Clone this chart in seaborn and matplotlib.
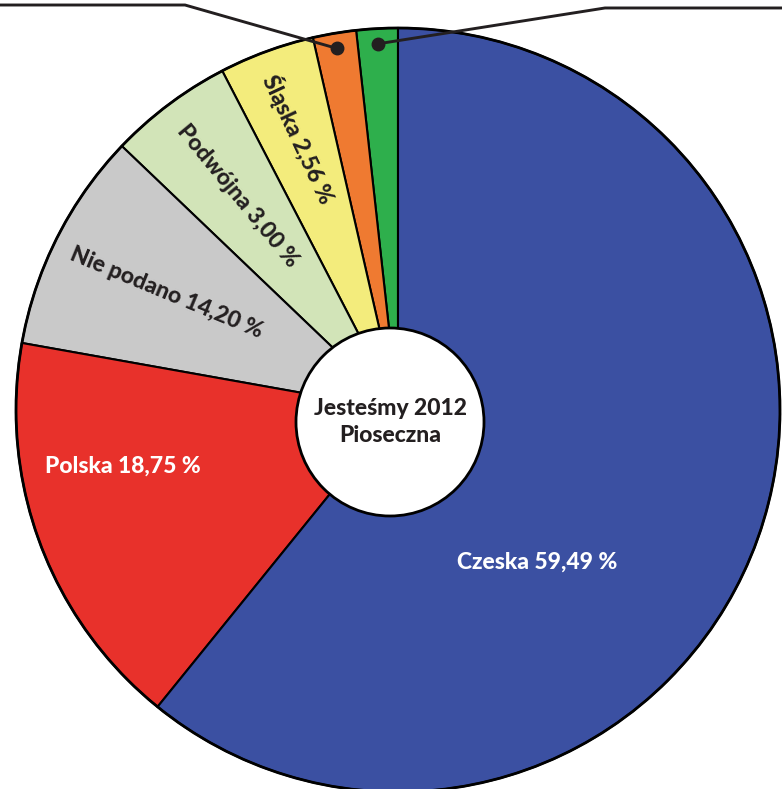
# ============================================
# Jesteśmy 2012 Pioseczna - nationality pie
# ============================================

import numpy as np
import matplotlib
matplotlib.use("Agg")
import matplotlib.pyplot as plt
import seaborn as sns

sns.set_theme(style="white")
plt.rcParams['font.family'] = ['Lato', 'DejaVu Sans']

# --------------------------------------------
# Data (counterclockwise from the top)
# --------------------------------------------
categories = ["inna A", "inna B", "Śląska", "Podwójna", "Nie podano", "Polska", "Czeska"]
# wedge sizes as drawn in the picture (%)
drawn_share = [1.75, 1.83, 4.03, 5.25, 9.33, 16.97, 60.83]
# percentages printed on the labels
label_pct = [None, None, 2.56, 3.00, 14.20, 18.75, 59.49]
colors = ["#2EAF4C", "#EF7A31", "#F3EC7C", "#D2E4B8", "#C9C9C9", "#E8312B", "#3B50A2"]
center_title = "Jesteśmy 2012\nPioseczna"

# --------------------------------------------
# Layout
# --------------------------------------------
W, H, DPI = 782, 789, 100
CX, CY, R_PX = 398, 410, 382          # pie centre / radius in pixels
FONT_W = 900                          # heavy weight, closer to the original

# label placement: (radius fraction, angle in deg or None = wedge middle, rotation)
label_layout = {
    "Śląska":     (0.757, None, -65),
    "Podwójna":   (0.70, None, -50.5),
    "Nie podano": (0.68, None, -22.5),
    "Polska":     (0.735, 191.5, 0),
    "Czeska":     (0.54, -47.7, 0),
}
white_text = {"Polska", "Czeska"}

fig = plt.figure(figsize=(W / DPI, H / DPI), dpi=DPI)
ax = fig.add_axes([0, 0, 1, 1])

wedges, _ = ax.pie(
    drawn_share,
    colors=sns.color_palette(colors),
    startangle=90,
    counterclock=True,
    radius=1.0,
    wedgeprops=dict(edgecolor="black", linewidth=1.5),
)

# outer outline
ax.add_patch(plt.Circle((0, 0), 1.0, fill=False, edgecolor="black", linewidth=2.0, zorder=3))

# wedge labels
for name, pct, w in zip(categories, label_pct, wedges):
    if pct is None:
        continue
    r, ang, rot = label_layout[name]
    if ang is None:
        ang = (w.theta1 + w.theta2) / 2
    x, y = r * np.cos(np.radians(ang)), r * np.sin(np.radians(ang))
    txt = f"{name} {pct:.2f}".replace(".", ",") + " %"
    ax.text(x, y, txt, ha="center", va="center", rotation=rot,
            rotation_mode="anchor", fontsize=16.5, fontweight=FONT_W,
            color="white" if name in white_text else "#231F20", zorder=5)

# white centre disc
disc_c = (-8 / R_PX, -12 / R_PX)
ax.add_patch(plt.Circle(disc_c, 94 / R_PX, facecolor="white",
                        edgecolor="black", linewidth=2.0, zorder=4))
ax.text(disc_c[0], disc_c[1], center_title, ha="center", va="center",
        fontsize=16.5, fontweight=FONT_W, color="#231F20", linespacing=1.35, zorder=5)

# leader lines for the two small wedges (their labels sit above the crop)
elbows = [(-0.5576, 1.0602, -1.2), (0.5419, 1.0524, 1.2)]
for w, (ex, ey, end_x) in zip([wedges[1], wedges[0]], elbows):
    mid = np.radians((w.theta1 + w.theta2) / 2)
    px, py = 0.96 * np.cos(mid), 0.96 * np.sin(mid)
    ax.plot([px, ex, end_x], [py, ey, ey], color="#231F20", lw=2.1,
            clip_on=False, zorder=6, solid_joinstyle="miter")
    ax.plot(px, py, "o", color="#231F20", markersize=9, zorder=7)

ax.set_xlim(-CX / R_PX, (W - CX) / R_PX)
ax.set_ylim(-(H - CY) / R_PX, CY / R_PX)
ax.set_aspect("equal")
ax.axis("off")

fig.savefig("out.png", dpi=DPI, facecolor="white")
